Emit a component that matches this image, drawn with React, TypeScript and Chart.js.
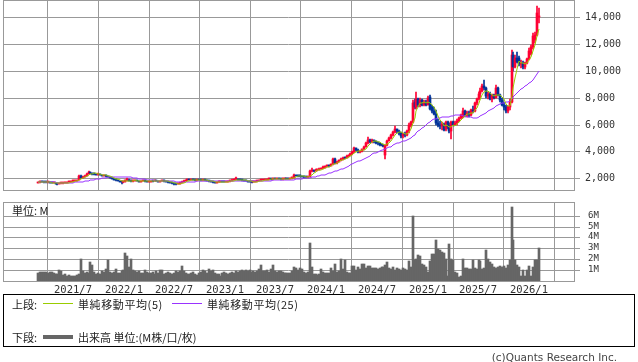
import React, { useEffect, useRef } from "react";
import { Chart, registerables } from "chart.js";

Chart.register(...registerables);

// ---- data (weekly candles, first week = 2021-02-25) ----
const firstWeek = "2021-02-25";
const tickDates = ["2021-07-01","2022-01-01","2022-07-01","2023-01-01","2023-07-01","2024-01-01","2024-07-01","2025-01-01","2025-07-01","2026-01-01"];
const tickLabels = ["2021/7","2022/1","2022/7","2023/1","2023/7","2024/1","2024/7","2025/1","2025/7","2026/1"];
const priceTicks = [2000,4000,6000,8000,10000,12000,14000];
const volumeTicks = [1,2,3,4,5,6];

const opens = [
  1650,1700,1760,1720,1700,1690,1710,1680,1650,1660,1600,1560,1620,1640,1650,1670,1700,1760,
  1780,1800,1830,1850,2150,2050,2100,2200,2350,2480,2400,
  2350,2300,2280,2320,2250,2200,2230,2150,2100,2050,1980,1900,1850,1800,1750,1700,
  1720,1850,1900,1820,1780,1830,1870,1800,1760,1790,1830,1780,1740,1760,1800,1780,1820,1790,1760,1800,
  1820,1780,1720,1700,1650,1620,1580,1560,1600,1680,
  1750,1820,1850,1880,1860,1900,1870,1850,1880,1860,1840,1870,1850,1820,
  1780,1740,1700,1680,1700,1740,1780,1760,1720,1740,
  1780,1830,1880,1920,1950,1900,1880,1860,1830,1800,
  1760,1720,1700,1740,1780,1810,1840,1860,1880,1900,
  1920,1950,1920,1960,1940,1980,1950,1930,1960,1990,1970,1950,2000,
  2050,2250,2200,2180,2150,2100,2080,2060,
  2080,2550,2620,2550,2600,2650,2700,2750,2800,2880,2950,2900,3050,3450,3150,
  3250,3350,3450,3550,3500,3650,3700,3800,3950,4250,4100,3950,4000,4150,4350,4600,4850,4700,4850,4750,4650,4600,4500,4450,
  3750,4450,4800,5000,5200,5450,5650,5500,5400,
  5150,5300,5200,5500,6000,6200,7700,7300,7900,7450,
  7800,7500,7700,7500,8050,7300,7000,6800,6100,6000,
  5900,6050,5650,6200,5800,5500,6200,6000,6150,6300,
  6500,6600,7000,6700,6900,6700,7100,7000,7600,7900,
  8300,8500,8900,8700,8100,8300,7900,8200,8000,8700,
  8200,7800,7500,7300,7000,7300,7700,11200,10300,11000,
  10950,10500,10600,10300,10600,10900,11300,11800,12300,12700,
  14000,
];

const highs = [
  1760,1800,1780,1740,1720,1740,1720,1690,1690,1670,1620,1650,1670,1680,1700,1740,1790,1820,
  1840,1870,1880,2250,2250,2180,2280,2420,2540,2500,2420,
  2380,2340,2360,2340,2280,2270,2250,2180,2120,2070,2000,1920,1870,1820,1770,1760,
  1900,1990,1920,1840,1860,1900,1880,1810,1820,1860,1840,1790,1780,1830,1820,1850,1830,1800,1830,1860,
  1840,1800,1740,1720,1670,1640,1600,1640,1700,1790,
  1850,1900,1920,1920,1960,1920,1890,1910,1900,1880,1900,1890,1870,1830,
  1800,1760,1720,1730,1770,1820,1800,1770,1760,1800,
  1860,1920,1960,2100,1980,1920,1900,1880,1850,1820,
  1780,1740,1770,1800,1830,1870,1890,1900,1930,1950,
  1990,1970,2000,1990,2020,2000,1970,1990,2030,2010,1990,2040,2100,
  2300,2280,2260,2220,2180,2140,2110,2120,
  2650,2750,2650,2680,2720,2760,2800,2880,2950,3000,2980,3100,3520,3480,3300,
  3400,3500,3600,3620,3700,3750,3850,4000,4300,4280,4150,4050,4200,4400,4700,5080,4900,4950,4880,4800,4700,4650,4550,4500,
  4500,4850,5100,5300,5550,5900,5700,5600,5450,
  5400,5450,5600,6100,6300,7800,7900,8450,8000,7950,
  7900,7800,7800,8100,8200,7500,7300,7100,6400,6300,
  6200,6100,6300,6250,6100,6300,6300,6250,6400,6600,
  6800,7250,7100,7000,7000,7200,7400,7700,8000,8400,
  8700,9000,9350,8800,8400,8400,8300,8300,8950,8800,
  8300,8000,7700,7500,7400,7900,11550,11400,11200,11400,
  11100,10800,10750,10700,11000,11700,11900,12800,12900,14850,
  14700,
];

const lows = [
  1620,1680,1700,1680,1660,1670,1650,1620,1620,1560,1500,1540,1600,1610,1630,1650,1690,1730,
  1750,1780,1800,1840,2000,2020,2060,2180,2320,2330,2280,
  2260,2240,2250,2220,2170,2180,2120,2060,2020,1950,1880,1830,1770,1720,1600,1680,
  1700,1820,1800,1750,1760,1800,1780,1740,1740,1770,1760,1720,1720,1740,1760,1770,1770,1740,1740,1780,
  1750,1700,1660,1620,1580,1530,1500,1540,1590,1660,
  1730,1800,1830,1840,1840,1850,1830,1830,1850,1820,1820,1830,1800,1760,
  1720,1660,1620,1660,1690,1730,1740,1700,1700,1730,
  1760,1810,1860,1900,1880,1850,1830,1800,1770,1740,
  1690,1660,1690,1720,1760,1800,1820,1850,1860,1880,
  1900,1900,1900,1920,1920,1930,1900,1910,1940,1950,1920,1930,1980,
  2030,2170,2100,2100,2060,2040,2020,2030,
  2060,2500,2450,2520,2560,2620,2660,2700,2760,2850,2850,2880,3000,3100,3100,
  3200,3300,3400,3450,3480,3600,3680,3750,3900,4050,3900,3900,3950,4100,4300,4550,4600,4650,4650,4550,4500,4420,4380,4300,
  3450,4400,4750,4950,5150,5400,5400,5250,5000,
  5000,5100,5150,5400,5800,6100,7150,7200,7350,7300,
  7400,7400,7400,7450,7100,6900,6700,6000,5800,5700,
  5600,5500,5500,5700,5400,4900,5900,5950,6000,6200,
  6400,6500,6600,6600,6600,6650,6900,6950,7500,7800,
  8000,8400,8600,8000,7900,7800,7700,7900,7950,8100,
  7700,7400,7100,6900,6900,7100,7600,10000,10200,10600,
  10400,10200,10150,10150,10500,10800,11200,11600,12100,12600,
  13600,
];

const closes = [
  1700,1760,1720,1700,1690,1710,1680,1650,1660,1600,1560,1620,1640,1650,1670,1700,1760,1780,
  1800,1830,1850,2150,2050,2100,2200,2350,2480,2400,2350,
  2300,2280,2320,2250,2200,2230,2150,2100,2050,1980,1900,1850,1800,1750,1700,1720,
  1850,1900,1820,1780,1830,1870,1800,1760,1790,1830,1780,1740,1760,1800,1780,1820,1790,1760,1800,1820,
  1780,1720,1700,1650,1620,1580,1560,1600,1680,1750,
  1820,1850,1880,1860,1900,1870,1850,1880,1860,1840,1870,1850,1820,1780,
  1740,1700,1680,1700,1740,1780,1760,1720,1740,1780,
  1830,1880,1920,1950,1900,1880,1860,1830,1800,1760,
  1720,1700,1740,1780,1810,1840,1860,1880,1900,1920,
  1950,1920,1960,1940,1980,1950,1930,1960,1990,1970,1950,2000,2050,
  2250,2200,2180,2150,2100,2080,2060,2080,
  2550,2620,2550,2600,2650,2700,2750,2800,2880,2950,2900,3050,3450,3150,3250,
  3350,3450,3550,3500,3650,3700,3800,3950,4250,4100,3950,4000,4150,4350,4600,4850,4700,4850,4750,4650,4600,4500,4450,4400,
  4450,4800,5000,5200,5450,5650,5500,5400,5150,
  5300,5200,5500,6000,6200,7600,7300,7900,7450,7800,
  7500,7700,7500,8000,7200,7000,6800,6100,6000,5900,
  6050,5600,6200,5800,5500,6200,6000,6150,6300,6500,
  6700,7000,6700,6900,6700,7100,7000,7600,7900,8300,
  8500,8900,8700,8100,8300,7900,8200,8000,8700,8200,
  7800,7500,7300,7000,7300,7700,11200,10300,11000,10700,
  10500,10600,10300,10600,10900,11500,11800,12600,12700,14300,
  14100,
];

// volume in millions of shares
const volumes = [
  0.7,0.8,0.85,0.85,0.8,0.75,0.8,0.85,0.75,0.6,0.65,1.05,0.9,0.55,0.6,0.5,0.55,0.45,
  0.5,0.45,0.55,0.6,2.05,0.9,0.75,0.8,0.7,1.7,1.5,0.8,0.6,0.7,0.6,0.9,0.8,1.1,1.95,0.85,0.7,
  0.8,1.1,0.7,0.7,0.9,1.0,2.6,2.3,1.3,2.05,1.0,0.9,0.8,0.9,0.7,0.75,1.0,0.8,0.7,0.75,
  0.8,0.6,0.9,0.7,1.0,1.05,0.6,0.7,0.8,0.7,0.65,0.75,0.9,0.8,0.9,1.35,0.9,0.7,0.6,0.65,
  0.75,0.8,0.6,0.55,0.7,0.8,1.0,0.9,0.7,1.1,0.9,1.0,0.7,0.6,0.65,0.5,0.7,0.8,0.75,0.6,
  0.7,0.8,0.75,0.9,0.8,0.9,1.0,0.95,1.05,0.9,1.0,0.8,0.9,0.85,0.9,1.1,1.45,0.9,0.95,1.0,
  0.8,1.1,1.45,0.9,0.85,0.95,0.9,0.8,0.75,0.7,0.75,0.7,0.9,1.3,1.2,1.0,1.15,1.1,0.8,0.75,0.8,
  3.5,
  1.3,0.6,0.6,0.55,0.6,1.1,0.8,0.75,0.7,0.75,1.2,0.9,1.6,0.8,0.9,2.05,1.1,1.97,
  0.8,0.7,0.75,1.35,1.35,1.0,1.3,1.1,1.6,1.6,1.2,1.4,1.4,1.2,1.2,1.15,1.1,1.15,1.3,1.3,
  1.45,1.75,1.2,1.1,1.3,1.0,1.15,1.1,1.0,1.15,1.1,1.0,1.8,1.3,
  6.0,
  1.9,2.05,2.4,2.3,1.6,1.5,1.3,0.8,1.8,2.5,2.5,3.8,2.9,2.8,2.7,2.6,2.0,0.5,3.35,2.0,1.9,0.8,0.7,0.4,0.5,
  2.05,1.2,1.15,1.1,1.1,1.9,1.15,1.1,1.9,1.8,1.1,1.2,2.8,2.05,1.7,1.6,1.3,1.2,1.3,1.4,1.3,1.35,1.2,1.5,1.9,
  6.8,3.75,1.9,1.5,1.3,0.5,1.0,0.5,1.0,1.35,0.5,1.3,1.9,1.9,3.0,
];

// ---- helpers ----
const WEEK = 7 * 24 * 3600 * 1000;
const tickPositions = tickDates.map((d) => (Date.parse(d) - Date.parse(firstWeek)) / WEEK);

function sma(values: number[], n: number) {
  return values.map((_, i) => {
    const s = values.slice(Math.max(0, i - n + 1), i + 1);
    return s.reduce((a, b) => a + b, 0) / s.length;
  });
}

const UP = "#ff0033";
const DOWN = "#003399";
const GRID = "#999999";
const X_MIN = -18.08;
const X_MAX = 276.19;

const framePlugin = {
  id: "frame",
  afterDraw(chart: any) {
    const { ctx, chartArea } = chart;
    const { left, top, right, bottom } = chartArea;
    ctx.save();
    ctx.strokeStyle = GRID;
    ctx.lineWidth = 1;
    ctx.strokeRect(Math.round(left) + 0.5, Math.round(top) + 0.5, Math.round(right - left), Math.round(bottom - top));
    ctx.restore();
  },
};

function zeroPad(s: any) {
  s.paddingTop = 0;
  s.paddingBottom = 0;
  s.paddingLeft = 0;
  s.paddingRight = 0;
}

function xScale(showLabels: boolean) {
  return {
    type: "linear",
    min: X_MIN,
    max: X_MAX,
    offset: false,
    alignToPixels: true,
    afterBuildTicks: (s: any) => {
      s.ticks = tickPositions.map((v) => ({ value: v }));
    },
    afterFit: (s: any) => {
      s.height = showLabels ? 15 : 0;
      zeroPad(s);
    },
    grid: { color: GRID, lineWidth: 1, drawTicks: false },
    border: { display: false },
    ticks: {
      display: showLabels,
      autoSkip: false,
      maxRotation: 0,
      padding: 3,
      color: "#333",
      font: { family: "'DejaVu Sans Mono', monospace", size: 10.5 },
      callback: (_v: any, i: number) => tickLabels[i],
    },
  };
}

function PriceChart() {
  const ref = useRef<HTMLCanvasElement>(null);
  useEffect(() => {
    const idx = closes.map((_, i) => i);
    const colors = closes.map((c, i) => (c >= opens[i] ? UP : DOWN));
    const ma5 = sma(closes, 5);
    const ma25 = sma(closes, 25);
    const chart = new Chart(ref.current!, {
      type: "bar",
      data: {
        datasets: [
          {
            type: "line",
            data: idx.map((i) => ({ x: i, y: ma5[i] })),
            borderColor: "#99cc00",
            borderWidth: 1,
            pointRadius: 0,
            order: 0,
          } as any,
          {
            type: "line",
            data: idx.map((i) => ({ x: i, y: ma25[i] })),
            borderColor: "#9933ff",
            borderWidth: 1,
            pointRadius: 0,
            order: 0,
          } as any,
          {
            data: idx.map((i) => ({ x: i, y: [opens[i], closes[i]] })),
            backgroundColor: colors,
            barThickness: 2,
            minBarLength: 1,
            grouped: false,
            order: 1,
          } as any,
          {
            data: idx.map((i) => ({ x: i, y: [lows[i], highs[i]] })),
            backgroundColor: colors,
            barThickness: 1,
            grouped: false,
            order: 2,
          } as any,
        ],
      },
      options: {
        animation: false,
        responsive: false,
        maintainAspectRatio: false,
        layout: { autoPadding: false, padding: { left: 3, top: 0, right: 0, bottom: 2 } },
        plugins: { legend: { display: false }, tooltip: { enabled: false } },
        scales: {
          x: xScale(false) as any,
          y: {
            position: "right",
            min: 1128,
            max: 15289,
            alignToPixels: true,
            afterBuildTicks: (s: any) => {
              s.ticks = priceTicks.map((v) => ({ value: v }));
            },
            afterFit: (s: any) => {
              s.width = 64;
              zeroPad(s);
            },
            grid: { color: GRID, lineWidth: 1, tickLength: 6 },
            border: { display: false },
            ticks: {
              padding: 5,
              color: "#333",
              font: { family: "'DejaVu Sans Mono', monospace", size: 10 },
              callback: (v: any) => Number(v).toLocaleString("en-US"),
            },
          },
        },
      },
      plugins: [framePlugin],
    });
    return () => chart.destroy();
  }, []);
  return (
    <canvas
      ref={ref}
      width={638}
      height={192}
      style={{ position: "absolute", left: 0, top: 0, width: 638, height: 192 }}
    />
  );
}

function VolumeChart() {
  const ref = useRef<HTMLCanvasElement>(null);
  useEffect(() => {
    const chart = new Chart(ref.current!, {
      type: "bar",
      data: {
        datasets: [
          {
            data: volumes.map((v, i) => ({ x: i, y: v })),
            backgroundColor: "#666666",
            barThickness: 2,
            grouped: false,
          } as any,
        ],
      },
      options: {
        animation: false,
        responsive: false,
        maintainAspectRatio: false,
        layout: { autoPadding: false, padding: { left: 3, top: 6, right: 0, bottom: 0 } },
        plugins: { legend: { display: false }, tooltip: { enabled: false } },
        scales: {
          x: xScale(true) as any,
          y: {
            position: "right",
            min: 0,
            max: 7.25,
            alignToPixels: true,
            afterBuildTicks: (s: any) => {
              s.ticks = volumeTicks.map((v) => ({ value: v }));
            },
            afterFit: (s: any) => {
              s.width = 64;
              zeroPad(s);
            },
            grid: { color: GRID, lineWidth: 1, tickLength: 6 },
            border: { display: false },
            ticks: {
              padding: 8,
              color: "#333",
              font: { family: "'DejaVu Sans Mono', monospace", size: 9 },
              callback: (v: any) => `${v}M`,
            },
          },
        },
      },
      plugins: [framePlugin],
    });
    return () => chart.destroy();
  }, []);
  return (
    <canvas
      ref={ref}
      width={638}
      height={100}
      style={{ position: "absolute", left: 0, top: 196, width: 638, height: 100 }}
    />
  );
}

const jp = "'Noto Sans CJK JP', 'Noto Sans', sans-serif";

export default function App() {
  const text: React.CSSProperties = {
    position: "absolute",
    fontFamily: jp,
    fontSize: 11,
    lineHeight: "14px",
    color: "#222",
    whiteSpace: "nowrap",
  };
  return (
    <div style={{ position: "absolute", left: 0, top: 0, width: 638, height: 362, background: "#fff", overflow: "hidden" }}>
      <PriceChart />
      <VolumeChart />
      <div style={{ ...text, left: 12, top: 203 }}>単位: M</div>
      <div
        style={{
          position: "absolute",
          left: 3,
          top: 294,
          width: 632,
          height: 53,
          border: "1px solid #000",
          boxSizing: "border-box",
        }}
      >
        <div style={{ ...text, left: 8, top: 1.5 }}>上段:</div>
        <div style={{ position: "absolute", left: 39, top: 8, width: 30, height: 1, background: "#99cc00" }} />
        <div style={{ ...text, left: 74, top: 1.5, letterSpacing: 0.6 }}>単純移動平均(5)</div>
        <div style={{ position: "absolute", left: 168, top: 8, width: 30, height: 1, background: "#9933ff" }} />
        <div style={{ ...text, left: 203, top: 1.5, letterSpacing: 0.6 }}>単純移動平均(25)</div>
        <div style={{ ...text, left: 8, top: 35 }}>下段:</div>
        <div style={{ position: "absolute", left: 39, top: 40, width: 30, height: 4, background: "#666666" }} />
        <div style={{ ...text, left: 74, top: 35 }}>出来高 単位:(M株/口/枚)</div>
      </div>
      <div
        style={{
          position: "absolute",
          right: 21,
          top: 350,
          fontFamily: "'DejaVu Sans', sans-serif",
          fontSize: 10.5,
          lineHeight: "14px",
          color: "#444",
          whiteSpace: "nowrap",
        }}
      >
        (c)Quants Research Inc.
      </div>
    </div>
  );
}
